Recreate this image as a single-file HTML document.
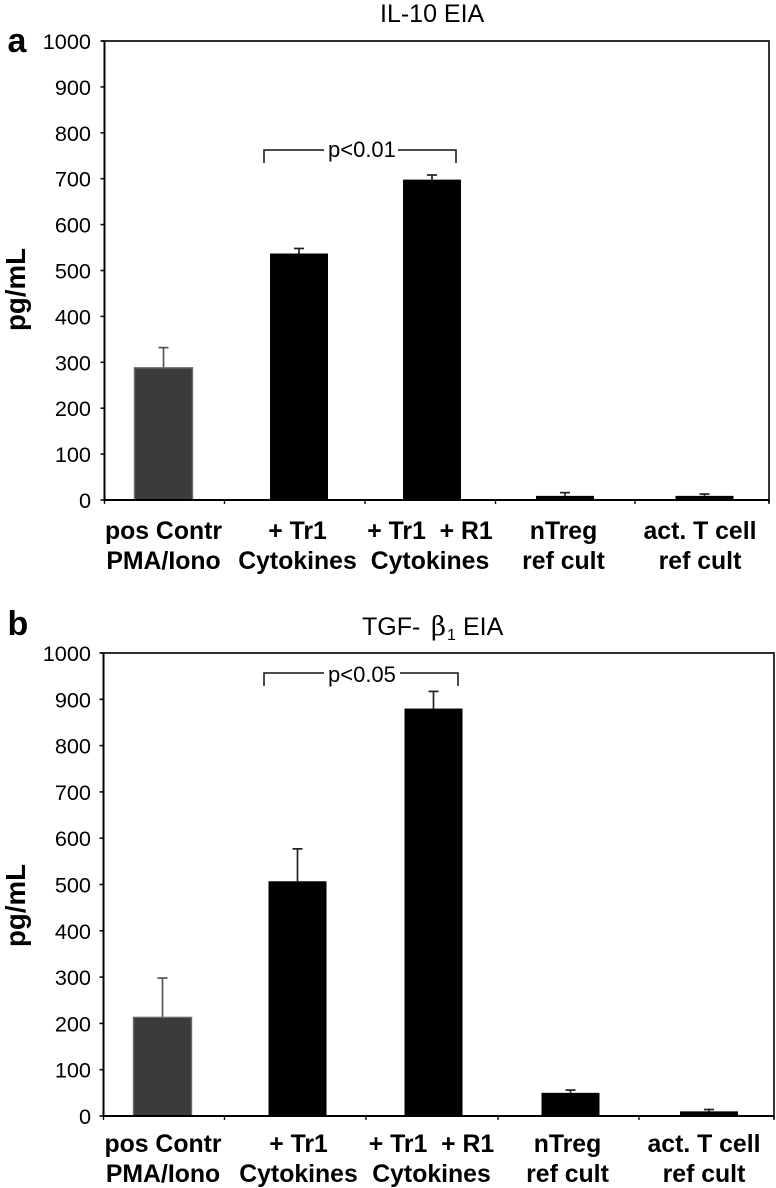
<!DOCTYPE html>
<html lang="en">
<head>
<meta charset="utf-8">
<title>IL-10 and TGF-β1 EIA</title>
<style>
html,body{margin:0;padding:0;background:#fff;}
svg{display:block;}
text{font-family:"Liberation Sans",Arial,sans-serif;fill:#000;}
.tick{font-size:21.7px;text-anchor:end;}
.cat{font-size:24.8px;font-weight:bold;text-anchor:middle;}
.title{font-size:25px;}
.panel{font-size:34px;font-weight:bold;}
.ylab{font-size:27.7px;font-weight:bold;}
.sig{font-size:22px;}
</style>
</head>
<body>
<svg id="chart" xmlns="http://www.w3.org/2000/svg" width="776" height="1188" viewBox="0 0 776 1188"></svg>
<script>
const categoriesLine1 = ['pos Contr', '+ Tr1', '+ Tr1  + R1', 'nTreg', 'act. T cell'];
const categoriesLine2 = ['PMA/Iono', 'Cytokines', 'Cytokines', 'ref cult', 'ref cult'];
const yTicks = [0, 100, 200, 300, 400, 500, 600, 700, 800, 900, 1000];
const il10Values = [288, 537, 698, 9, 9];
const il10Errors = [44, 11, 10, 7, 4];
const tgfValues = [213, 507, 880, 50, 10];
const tgfErrors = [85, 70, 37, 6, 4];

const svg = document.getElementById('chart');
const NS = 'http://www.w3.org/2000/svg';
function make(tag, attrs, parent, txt) {
  const el = document.createElementNS(NS, tag);
  for (const k in attrs) el.setAttribute(k, attrs[k]);
  if (txt !== undefined) el.textContent = txt;
  parent.appendChild(el);
  return el;
}

const layouts = [
  { key: 'a', title: 'IL-10 EIA', values: il10Values, errors: il10Errors, sig: 'p<0.01',
    left: 104.5, right: 769, top: 41, bottom: 500,
    edges: [104.5, 224.5, 365, 495.5, 635, 769],
    centers: [163.5, 299, 432, 565, 704.5], barW: 58,
    labelX: [163.5, 297.5, 430, 563.5, 700],
    labelY: [539, 569], panelY: 52, titleX: 380, titleY: 22,
    ylabY: 331, ylabX: 25,
    br: { l: 264, r: 456, t: 150, b: 163, gapL: 324, gapR: 398, textX: 328, textY: 157 } },
  { key: 'b', title: 'TGF- ', values: tgfValues, errors: tgfErrors, sig: 'p<0.05',
    left: 103.5, right: 774, top: 653, bottom: 1116,
    edges: [103.5, 224.5, 366, 498, 639, 774],
    centers: [162.5, 297.5, 433.5, 570.5, 709], barW: 58,
    labelX: [163, 298.5, 431.5, 567.5, 704],
    labelY: [1152, 1182], panelY: 635, titleX: 362, titleY: 635,
    ylabY: 947, ylabX: 25,
    br: { l: 264, r: 458, t: 673, b: 686, gapL: 324, gapR: 400, textX: 328, textY: 682 } }
];

layouts.forEach(function (p) {
  const y = function (v) { return p.bottom - (v / 1000) * (p.bottom - p.top); };

  const panelLabel = make('text', { x: 7.5, y: p.panelY, class: 'panel' }, svg, p.key);
  
  

  const title = make('text', { x: p.titleX, y: p.titleY, class: 'title' }, svg, p.title);
  
  
  if (p.key === 'b') {
    make('tspan', { x: 431, style: 'font-family:\'DejaVu Serif\',\'Liberation Serif\',serif;font-size:26px' }, title, 'β');
    make('tspan', { x: 447, dy: 5, style: 'font-size:16px' }, title, '1');
    make('tspan', { x: 463, dy: -5 }, title, 'EIA');
  }

  const ylab = make('text', { class: 'ylab', transform: 'translate(' + p.ylabX + ',' + p.ylabY + ') rotate(-90)' }, svg, 'pg/mL');
  
  

  const frame = make('path', {
    d: 'M' + (p.left - 3) + ' ' + p.top + 'H' + p.right + 'V' + (p.bottom + 3),
    fill: 'none', stroke: '#111', 'stroke-width': 1.7 }, svg);
  
  

  yTicks.forEach(function (t) {
    const mark = make('line', { x1: p.left - 4, x2: p.left, y1: y(t), y2: y(t), stroke: '#111', 'stroke-width': 1.6 }, svg);
    
    
    const lab = make('text', { x: 91, y: y(t) + 8, class: 'tick' }, svg, t);
    
    
  });

  p.edges.forEach(function (e) {
    const mark = make('line', { x1: e, x2: e, y1: p.bottom, y2: p.bottom + 4, stroke: '#111', 'stroke-width': 1.4 }, svg);
    
    
  });

  p.values.forEach(function (v, i) {
    const cx = p.centers[i];
    const first = i === 0;
    const hi = y(v + p.errors[i]);
    const errColor = first ? '#555' : '#222';
    const stem = make('line', { x1: cx, x2: cx, y1: hi, y2: y(v), stroke: errColor, 'stroke-width': 1.7 }, svg);
    
    
    const cap = make('line', { x1: cx - 5, x2: cx + 5, y1: hi, y2: hi, stroke: errColor, 'stroke-width': 1.7 }, svg);
    
    
    const bar = make('rect', {
      x: cx - p.barW / 2, y: y(v), width: p.barW, height: p.bottom - y(v),
      fill: first ? '#3b3b3b' : '#000',
      stroke: first ? '#6a6a6a' : 'none', 'stroke-width': first ? 1.4 : 0 }, svg);
    
    

    const l1 = make('text', { x: p.labelX[i], y: p.labelY[0], class: 'cat', style: 'white-space:pre' }, svg, categoriesLine1[i]);
    
    
    const l2 = make('text', { x: p.labelX[i], y: p.labelY[1], class: 'cat' }, svg, categoriesLine2[i]);
    
    
  });

  const axis = make('path', {
    d: 'M' + p.left + ' ' + p.top + 'V' + p.bottom + 'H' + p.right,
    fill: 'none', stroke: '#000', 'stroke-width': 2 }, svg);
  
  

  const b = p.br;
  const bracket = make('path', {
    d: 'M' + b.l + ' ' + b.b + 'V' + b.t + 'H' + b.gapL + 'M' + b.gapR + ' ' + b.t + 'H' + b.r + 'V' + b.b,
    fill: 'none', stroke: '#111', 'stroke-width': 1.5 }, svg);
  
  
  const sig = make('text', { x: b.textX, y: b.textY, class: 'sig' }, svg, p.sig);
  
  
});
</script>
</body>
</html>
